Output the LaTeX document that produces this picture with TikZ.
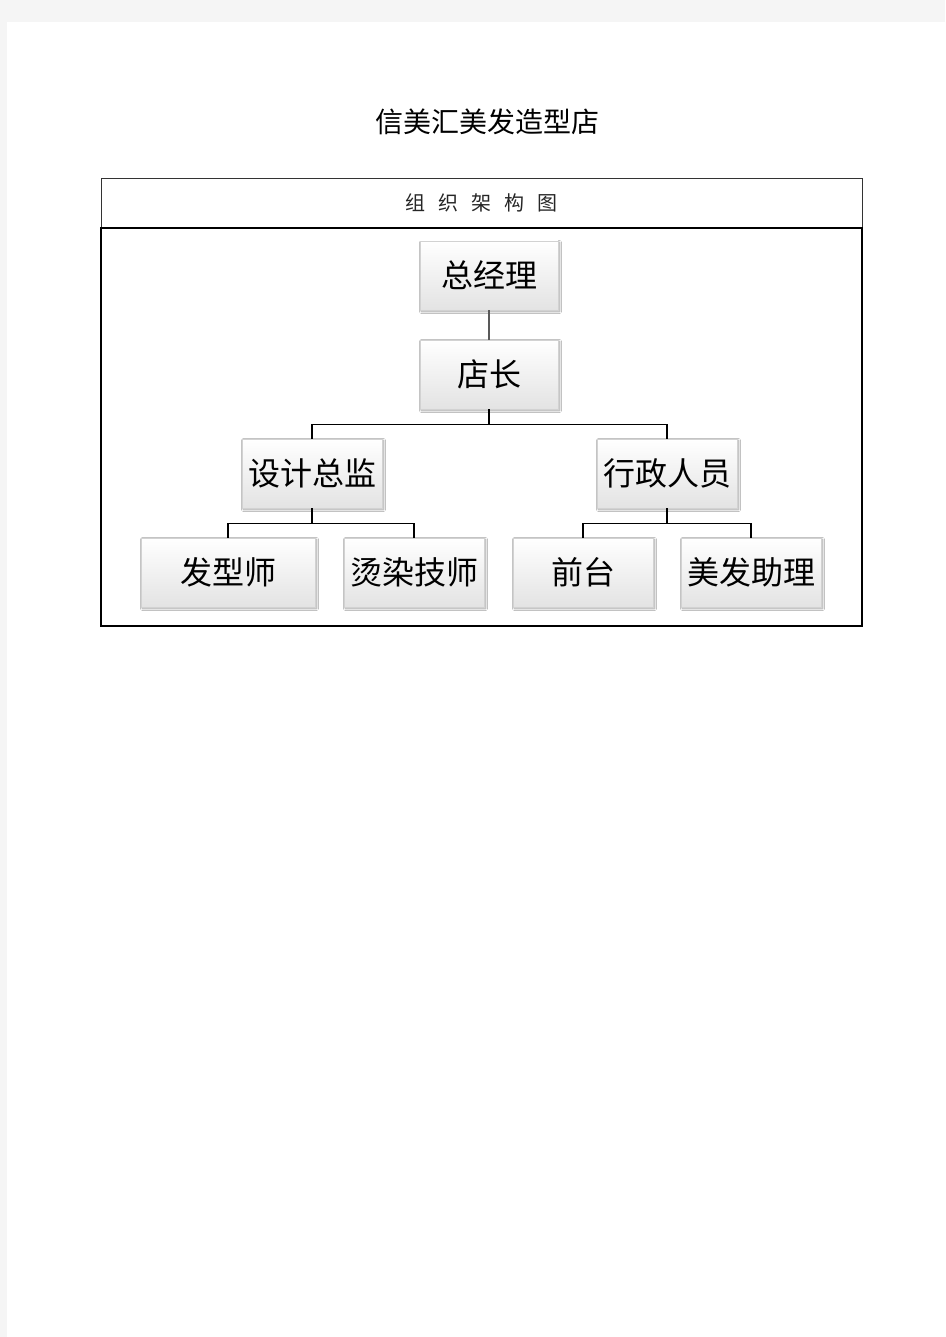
\documentclass[tikz,border=0pt]{standalone}
\usepackage{fontspec}
\newfontfamily\cjk{Noto Sans CJK SC}
\usetikzlibrary{shadows.blur}
\begin{document}
\begin{tikzpicture}[x=1pt,y=-1pt,
    rolebox/.style={draw=gray!35, line width=0.5pt, top color=white, bottom color=gray!22,
      minimum width=140pt, minimum height=69pt, inner sep=0pt,
      font=\cjk\fontsize{32}{32}\selectfont,
      blur shadow={shadow xshift=1.5pt, shadow yshift=-1.5pt, shadow blur radius=2pt, shadow opacity=45}},
    wire/.style={line width=1.3pt}]
  \fill[gray!8] (0,0) rectangle (945,1337);
  \fill[white] (7,22) rectangle (945,1337);
  \useasboundingbox (0,0) rectangle (945,1337);
  \node[font=\cjk\fontsize{28}{28}\selectfont] (title) at (487,122) {信美汇美发造型店};
  \node[draw=black!80, line width=0.8pt, minimum width=761pt, minimum height=50pt, inner sep=0pt,
    font=\cjk\fontsize{20}{20}\selectfont, text=black!85] (head) at (481.5,203)
    {组\hspace{13pt}织\hspace{13pt}架\hspace{13pt}构\hspace{13pt}图};
  \draw[line width=1.6pt] (101,228) rectangle (862,626);
  % roles
  \node[rolebox, minimum width=138pt] (zjl) at (489,275.5) {总经理};
  \node[rolebox, minimum width=138pt] (dz) at (489,374.5) {店长};
  \node[rolebox] (sjzj) at (312,473.5) {设计总监};
  \node[rolebox] (xzry) at (667,473.5) {行政人员};
  \node[rolebox, minimum width=174pt] (fxs) at (228,572.5) {发型师};
  \node[rolebox] (trjs) at (414,572.5) {烫染技师};
  \node[rolebox] (qt) at (583,572.5) {前台};
  \node[rolebox] (mfzl) at (751,572.5) {美发助理};
  % links
  \draw[wire, black!65] (zjl) -- (dz);
  \draw[wire] (dz.south) -- ++(0,15) coordinate (dzsplit) -| (sjzj.north);
  \draw[wire] (dzsplit) -| (xzry.north);
  \draw[wire] (sjzj.south) -- ++(0,15) coordinate (sjsplit) -| (fxs.north);
  \draw[wire] (sjsplit) -| (trjs.north);
  \draw[wire] (xzry.south) -- ++(0,15) coordinate (xzsplit) -| (qt.north);
  \draw[wire] (xzsplit) -| (mfzl.north);
\end{tikzpicture}
\end{document}
